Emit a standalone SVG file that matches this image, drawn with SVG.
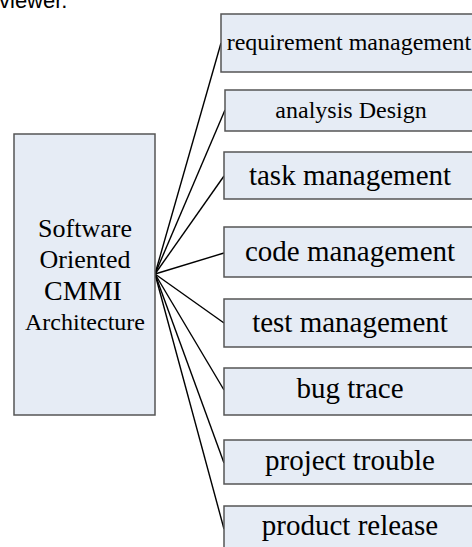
<svg xmlns="http://www.w3.org/2000/svg" width="472" height="547" viewBox="0 0 472 547">
<style>
.box{fill:#e6ecf5;stroke:#555;stroke-width:1.5}
.t{font-family:"Liberation Serif","Times New Roman",serif;fill:#000;text-anchor:middle}
.c{stroke:#000;stroke-width:1.4;fill:none}
</style>
<rect width="472" height="547" fill="#fff"/>
<text x="-1" y="8" font-family="Liberation Sans, Arial, sans-serif" font-size="22" fill="#000">viewer.</text>
<g id="connectors">
<line class="c" x1="155" y1="274" x2="221" y2="43"/>
<line class="c" x1="155" y1="274" x2="225" y2="110"/>
<line class="c" x1="155" y1="274" x2="224" y2="176"/>
<line class="c" x1="155" y1="274" x2="224" y2="253"/>
<line class="c" x1="155" y1="274" x2="224" y2="323"/>
<line class="c" x1="155" y1="274" x2="224" y2="390"/>
<line class="c" x1="155" y1="274" x2="224" y2="463"/>
<line class="c" x1="155" y1="274" x2="224" y2="529"/>
</g>
<g id="center">
<rect class="box" x="14" y="134" width="141" height="281"/>
<text class="t" x="85" y="237" font-size="26">Software</text>
<text class="t" x="85" y="268" font-size="26">Oriented</text>
<text class="t" x="83" y="300" font-size="28">CMMI</text>
<text class="t" x="85" y="330" font-size="24">Architecture</text>
</g>
<g id="n1"><rect class="box" x="221" y="14" width="260" height="58"/><text class="t" x="349" y="50" font-size="24">requirement management</text></g>
<g id="n2"><rect class="box" x="225" y="90" width="260" height="41"/><text class="t" x="351" y="118" font-size="24">analysis Design</text></g>
<g id="n3"><rect class="box" x="224" y="152" width="260" height="47"/><text class="t" x="350" y="185" font-size="29">task management</text></g>
<g id="n4"><rect class="box" x="224" y="227" width="260" height="50"/><text class="t" x="350" y="261" font-size="29">code management</text></g>
<g id="n5"><rect class="box" x="224" y="299" width="260" height="48"/><text class="t" x="350" y="332" font-size="29">test management</text></g>
<g id="n6"><rect class="box" x="224" y="368" width="260" height="47"/><text class="t" x="350" y="398" font-size="29">bug trace</text></g>
<g id="n7"><rect class="box" x="224" y="440" width="260" height="44"/><text class="t" x="350" y="470" font-size="29">project trouble</text></g>
<g id="n8"><rect class="box" x="224" y="506" width="260" height="50"/><text class="t" x="350" y="535" font-size="29">product release</text></g>
</svg>
